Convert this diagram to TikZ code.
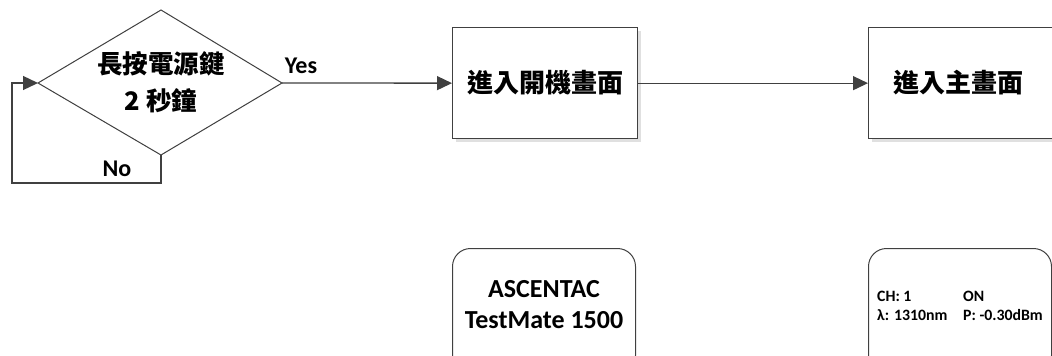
\documentclass[tikz,border=0pt]{standalone}
\usepackage{fontspec}
\setmainfont{Carlito}
\newfontfamily\cjk{Noto Sans CJK TC}
\usetikzlibrary{arrows.meta,shapes.geometric,shadows}
\definecolor{ln}{HTML}{404040}
\tikzset{
  conn/.style={draw=ln, line width=1.3pt},
  arr/.style={conn, -{Triangle[length=15pt,width=14pt]}},
  procbox/.style={draw=ln, line width=1.3pt, fill=white, minimum width=185pt, minimum height=111pt, anchor=north west, inner sep=0pt,
    drop shadow={shadow xshift=3pt, shadow yshift=-3pt, fill=black!12, opacity=1}},
  scrbox/.style={draw=ln, line width=1pt, rounded corners=18pt, minimum width=183pt, minimum height=125pt, anchor=north west, inner sep=0pt},
  lbl/.style={font=\bfseries\fontsize{24}{26}\selectfont, inner sep=0pt},
  cjktext/.style={font=\cjk\bfseries\fontsize{26}{32}\selectfont},
  small/.style={font=\bfseries\fontsize{15.8}{19}\selectfont, anchor=base west, inner sep=0pt}
}
\begin{document}
\begin{tikzpicture}[x=1pt,y=-1pt]
\clip (0,0) rectangle (1052,356);
\fill[white] (0,0) rectangle (1052,356);
% decision diamond
\coordinate (dt) at (161,10);
\coordinate (dl) at (38,83);
\coordinate (dr) at (282,83);
\coordinate (db) at (161,155);
\draw[conn, line width=1pt] (dt) -- (dr) -- (db) -- (dl) -- cycle;
\node[align=center, font=\cjk\bfseries\fontsize{25.5}{37}\selectfont] (dtext) at (161,82) {長按電源鍵\\2 秒鐘};
% boxes
\node[procbox] (b1) at (452,27) {};
\node[cjktext] (t1) at (545,83) {進入開機畫面};
\node[procbox, minimum width=200pt] (b2) at (868,27) {};
\node[cjktext] (t2) at (958,83) {進入主畫面};
% connectors
\coordinate (n1) at (161,183);
\coordinate (n2) at (12,183);
\coordinate (n3) at (12,83);
\draw[arr] (db) -- (n1) -- (n2) -- (n3) -- (dl);
\draw[arr] (dr) -- (b1.west);
\draw[arr] (b1.east) -- (b2.west);
\node[lbl] (yes) at (301,66) {Yes};
\node[lbl] (no) at (117,169) {No};
% screens
\node[scrbox] (s1) at (452,248) {};
\node[font=\bfseries\fontsize{26}{31}\selectfont, align=center] (s1t) at (544,305) {ASCENTAC\\TestMate 1500};
\node[scrbox] (s2) at (868,248) {};
\node[small] (c1) at (877,301) {CH: 1};
\node[small] (c2) at (963,301) {ON};
\node[small] (c3) at (877,320) {λ: 1310nm};
\node[small] (c4) at (963,320) {P: -0.30dBm};
\end{tikzpicture}
\end{document}
